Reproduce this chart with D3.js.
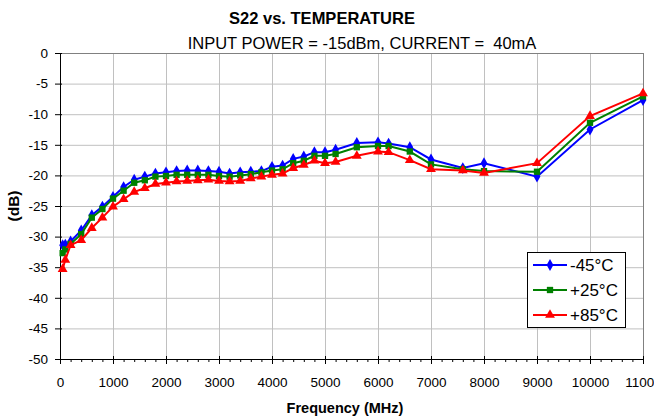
<!DOCTYPE html>
<html>
<head>
<meta charset="utf-8">
<script src="https://cdn.jsdelivr.net/npm/d3@7"></script>
<style>
  html, body { margin: 0; padding: 0; background: #fff; }
  svg { display: block; font-family: "Liberation Sans", Arial, sans-serif; }
</style>
</head>
<body>
<svg id="chart" width="654" height="418"></svg>
<script>
const freqs = [50, 100, 200, 400, 600, 800, 1000, 1200, 1400, 1600, 1800, 2000, 2200, 2400, 2600, 2800, 3000, 3200, 3400, 3600, 3800, 4000, 4200, 4400, 4600, 4800, 5000, 5200, 5600, 6000, 6200, 6600, 7000, 7600, 8000, 9000, 10000, 11000];

const minus45 = [-31.4, -31.3, -30.8, -29.0, -26.5, -25.1, -23.5, -21.9, -20.7, -20.2, -19.7, -19.5, -19.3, -19.2, -19.2, -19.3, -19.4, -19.7, -19.5, -19.4, -19.3, -18.6, -18.4, -17.3, -16.9, -16.2, -16.2, -15.8, -14.7, -14.6, -14.8, -15.4, -17.4, -18.8, -18.0, -20.2, -12.5, -7.7];
const plus25 = [-32.7, -32.1, -31.2, -29.6, -26.9, -25.5, -23.8, -22.5, -21.2, -20.8, -20.2, -20.1, -19.9, -19.9, -19.9, -19.9, -20.1, -20.2, -20.0, -19.8, -19.5, -19.2, -19.0, -18.0, -17.6, -16.8, -16.8, -16.5, -15.4, -15.2, -15.2, -16.1, -18.2, -19.0, -19.3, -19.4, -11.4, -7.1];
const plus85 = [-35.3, -33.8, -31.4, -30.6, -28.6, -26.9, -25.1, -23.9, -22.7, -22.1, -21.4, -21.2, -21.0, -20.9, -20.8, -20.7, -20.9, -21.0, -20.9, -20.5, -20.2, -19.9, -19.7, -18.8, -18.3, -17.6, -18.0, -17.8, -16.8, -16.1, -16.2, -17.5, -19.0, -19.2, -19.6, -18.0, -10.3, -6.6];

const seriesNames = ["-45°C", "+25°C", "+85°C"];
const seriesColors = ["#0000ff", "#008000", "#ff0000"];
const seriesShapes = ["diamond", "square", "triangle"];

const xTicks = [0, 1000, 2000, 3000, 4000, 5000, 6000, 7000, 8000, 9000, 10000, 11000];
const yTicks = [0, -5, -10, -15, -20, -25, -30, -35, -40, -45, -50];

const titleText = "S22 vs. TEMPERATURE";
const subtitleText = "INPUT POWER = -15dBm, CURRENT =  40mA";
const xLabel = "Frequency (MHz)";
const yLabel = "(dB)";

const svg = d3.select("#chart");
const L = 60, R = 643, T = 53, B = 359;
const x = d3.scaleLinear().domain([0, 11000]).range([L, R]);
const y = d3.scaleLinear().domain([-50, 0]).range([B, T]);
const FONT = "Liberation Sans, Arial, sans-serif";

// grid
const g = svg.append("g");
g.selectAll(".hg").data(yTicks).enter().append("line")
  .attr("x1", L).attr("x2", R).attr("y1", d => y(d) + 0.5).attr("y2", d => y(d) + 0.5)
  .attr("stroke", "#c0c0c0").attr("stroke-width", 1);
g.selectAll(".vg").data(xTicks).enter().append("line")
  .attr("x1", d => x(d) + 0.5).attr("x2", d => x(d) + 0.5).attr("y1", T).attr("y2", B)
  .attr("stroke", "#c0c0c0").attr("stroke-width", 1);
// top & right border
svg.append("line").attr("x1", L).attr("x2", R).attr("y1", T + 0.5).attr("y2", T + 0.5).attr("stroke", "#808080");
svg.append("line").attr("x1", R + 0.5).attr("x2", R + 0.5).attr("y1", T).attr("y2", B).attr("stroke", "#808080");

// axes
const xAxis = d3.axisBottom(x).tickValues(xTicks).tickSize(5).tickPadding(13).tickFormat(d => String(d));
const xg = svg.append("g").attr("transform", `translate(0,${B})`).call(xAxis);
xg.select(".domain").attr("stroke", "#000");
xg.selectAll(".tick line").attr("stroke", "#000").attr("y1", -3);
xg.selectAll("text").attr("font-size", 13.5).attr("fill", "#000").attr("font-family", FONT);
const minor = d3.range(0, 11001, 200).filter(d => d % 1000 !== 0);
svg.append("g").selectAll("line").data(minor).enter().append("line")
  .attr("x1", d => x(d) + 0.5).attr("x2", d => x(d) + 0.5).attr("y1", B).attr("y2", B + 3)
  .attr("stroke", "#000");

const yAxis = d3.axisLeft(y).tickValues(yTicks).tickSize(5).tickPadding(7).tickFormat(d => String(d));
const yg = svg.append("g").attr("transform", `translate(${L},0)`).call(yAxis);
yg.select(".domain").attr("stroke", "#000");
yg.selectAll(".tick line").attr("stroke", "#000").attr("x2", -5).attr("x1", 2);
yg.selectAll("text").attr("font-size", 13.5).attr("fill", "#000").attr("font-family", FONT);

// titles
svg.append("text").attr("x", 322).attr("y", 24).attr("text-anchor", "middle")
  .attr("font-size", 16.5).attr("font-weight", "bold").text(titleText);
svg.append("text").attr("x", 362).attr("y", 49).attr("text-anchor", "middle")
  .attr("font-size", 16.5).style("white-space", "pre").attr("xml:space", "preserve").text(subtitleText);
svg.append("text").attr("x", 345).attr("y", 413).attr("text-anchor", "middle")
  .attr("font-size", 14.5).attr("font-weight", "bold").text(xLabel);
svg.append("text").attr("transform", `translate(19,${(T + B) / 2}) rotate(-90)`)
  .attr("text-anchor", "middle").attr("font-size", 15.5).attr("font-weight", "bold").text(yLabel);

// series
const symbolOf = s => s === "diamond" ? d3.symbolDiamond : s === "square" ? d3.symbolSquare : d3.symbolTriangle;
const sizeOf = s => s === "diamond" ? 40 : s === "square" ? 40 : 42;
const allSeries = [minus45, plus25, plus85];
const line = d3.line().x(d => x(d[0])).y(d => y(d[1]));
allSeries.forEach((vals, i) => {
  const pts = freqs.map((f, j) => [f, vals[j]]);
  svg.append("path").datum(pts).attr("d", line).attr("fill", "none")
    .attr("stroke", seriesColors[i]).attr("stroke-width", 2);
  svg.append("g").selectAll("path").data(pts).enter().append("path")
    .attr("d", d3.symbol().type(symbolOf(seriesShapes[i])).size(sizeOf(seriesShapes[i])))
    .attr("transform", d => `translate(${x(d[0])},${y(d[1])})`)
    .attr("fill", seriesColors[i]);
});

// legend
const lg = svg.append("g");
lg.append("rect").attr("x", 527.5).attr("y", 252.5).attr("width", 98).attr("height", 75)
  .attr("fill", "#fff").attr("stroke", "#000");
seriesNames.forEach((n, i) => {
  const yy = 265 + i * 25;
  lg.append("line").attr("x1", 533).attr("x2", 567).attr("y1", yy).attr("y2", yy)
    .attr("stroke", seriesColors[i]).attr("stroke-width", 2);
  lg.append("path").attr("d", d3.symbol().type(symbolOf(seriesShapes[i])).size(sizeOf(seriesShapes[i])))
    .attr("transform", `translate(550,${yy})`).attr("fill", seriesColors[i]);
  lg.append("text").attr("x", 570).attr("y", yy + 6).attr("font-size", 17).text(n);
});
</script>
</body>
</html>
